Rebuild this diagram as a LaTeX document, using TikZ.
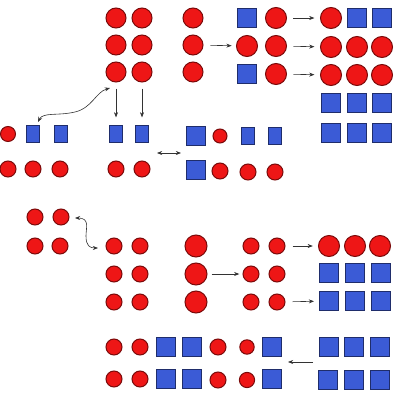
\documentclass[tikz,border=0pt]{standalone}
\usetikzlibrary{arrows.meta}
\definecolor{cred}{HTML}{EE1616}
\definecolor{credd}{HTML}{7A0A0A}
\definecolor{cblue}{HTML}{3B5BD6}
\definecolor{cblued}{HTML}{1F2D6B}
\definecolor{carr}{HTML}{333333}
\tikzset{
  rc/.style={circle, fill=cred, draw=credd, line width=0.25mm, minimum size=#1, inner sep=0pt},
  bs/.style={rectangle, fill=cblue, draw=cblued, line width=0.25mm, minimum size=#1, inner sep=0pt},
  br/.style={rectangle, fill=cblue, draw=cblued, line width=0.25mm, minimum width=3.25mm, minimum height=4.25mm, inner sep=0pt},
  arr/.style={draw=carr, line width=0.15mm, -{Stealth[length=1.3mm,width=1mm]}},
  darr/.style={draw=carr, line width=0.15mm, {Stealth[length=1.3mm,width=1mm]}-{Stealth[length=1.3mm,width=1mm]}}
}
\begin{document}
\begin{tikzpicture}[x=0.25mm,y=-0.25mm]
\useasboundingbox (0,0) rectangle (400,400);
% ---------- top ----------
\node[rc=5mm] (a11) at (116,18) {};
\node[rc=5mm] (a12) at (142,18) {};
\node[rc=5mm] (a21) at (116,45) {};
\node[rc=5mm] (a22) at (142,45) {};
\node[rc=5mm] (a31) at (116,72) {};
\node[rc=5mm] (a32) at (142,72) {};
\node[rc=5mm] (b1) at (193,18) {};
\node[rc=5mm] (b2) at (193,45) {};
\node[rc=5mm] (b3) at (193,72) {};
\node[bs=4.75mm] (c11) at (247,18) {};
\node[rc=5.25mm] (c12) at (276,18) {};
\node[rc=5.25mm] (c21) at (247,46) {};
\node[rc=5.25mm] (c22) at (276,46) {};
\node[bs=4.75mm] (c31) at (247,74) {};
\node[rc=5.25mm] (c32) at (276,74) {};
\node[rc=5.25mm] (d11) at (331,18) {};
\node[bs=4.75mm] (d12) at (357,18) {};
\node[bs=4.75mm] (d13) at (382,18) {};
\node[rc=5.25mm] (d21) at (331,47) {};
\node[rc=5.25mm] (d22) at (357,47) {};
\node[rc=5.25mm] (d23) at (382,47) {};
\node[rc=5.25mm] (d31) at (331,75) {};
\node[rc=5.25mm] (d32) at (357,75) {};
\node[rc=5.25mm] (d33) at (382,75) {};
\node[bs=4.75mm] (d41) at (331,103) {};
\node[bs=4.75mm] (d42) at (357,103) {};
\node[bs=4.75mm] (d43) at (382,103) {};
\node[bs=4.75mm] (d51) at (331,133) {};
\node[bs=4.75mm] (d52) at (357,133) {};
\node[bs=4.75mm] (d53) at (382,133) {};
\draw[arr, shorten <=1.7mm, shorten >=1.1mm] (b2) -- (c21);
\draw[arr, shorten <=1.6mm, shorten >=1.4mm] (c12) -- (d11);
\draw[arr, shorten <=1.6mm, shorten >=1.4mm] (c22) -- (d21);
\draw[arr, shorten <=1.6mm, shorten >=1.4mm] (c32) -- (d31);
% ---------- middle ----------
\node[rc=3.75mm] (e1) at (8,134) {};
\node[br] (e2) at (33,134) {};
\node[br] (e3) at (61,134) {};
\node[rc=4mm] (f1) at (8,169) {};
\node[rc=4mm] (f2) at (33,169) {};
\node[rc=4mm] (f3) at (60,169) {};
\node[br] (g1) at (116,134) {};
\node[br] (g2) at (142,134) {};
\node[rc=4mm] (h1) at (116,169) {};
\node[rc=4mm] (h2) at (142,169) {};
\node[bs=4.75mm] (i1) at (196,136) {};
\node[rc=3.5mm] (i2) at (220,136) {};
\node[br] (i3) at (248,136) {};
\node[br] (i4) at (275,136) {};
\node[bs=4.75mm] (j1) at (196,170) {};
\node[rc=4mm] (j2) at (220,171) {};
\node[rc=4mm] (j3) at (248,172) {};
\node[rc=4mm] (j4) at (275,172) {};
\draw[arr, shorten <=1.5mm, shorten >=1.9mm] (a31) -- (g1);
\draw[arr, shorten <=1.5mm, shorten >=1.9mm] (a32) -- (g2);
\coordinate (cs1) at (38,122);
\coordinate (ce1) at (110,88);
\draw[darr] (cs1) .. controls (43,112) and (58,116) .. (75,112) .. controls (92,108) and (96,92) .. (ce1);
\coordinate (ha) at (157,153);
\coordinate (hb) at (181,153);
\draw[darr] (ha) -- (hb);
% ---------- lower ----------
\node[rc=4mm] (k11) at (35,217) {};
\node[rc=4mm] (k12) at (61,217) {};
\node[rc=4mm] (k21) at (35,246) {};
\node[rc=4mm] (k22) at (60,246) {};
\node[rc=4mm] (l11) at (114,246) {};
\node[rc=4mm] (l12) at (140,246) {};
\node[rc=4mm] (l21) at (114,274) {};
\node[rc=4mm] (l22) at (140,274) {};
\node[rc=4mm] (l31) at (114,302) {};
\node[rc=4mm] (l32) at (140,302) {};
\node[rc=5.5mm] (m1) at (196,246) {};
\node[rc=5.5mm] (m2) at (196,274) {};
\node[rc=5.5mm] (m3) at (196,302) {};
\node[rc=4mm] (n11) at (251,246) {};
\node[rc=4mm] (n12) at (277,246) {};
\node[rc=4mm] (n21) at (251,274) {};
\node[rc=4mm] (n22) at (277,274) {};
\node[rc=4mm] (n31) at (251,302) {};
\node[rc=4mm] (n32) at (277,302) {};
\node[rc=5.25mm] (o11) at (329,246) {};
\node[rc=5.25mm] (o12) at (355,246) {};
\node[rc=5.25mm] (o13) at (380,246) {};
\node[bs=4.85mm] (o21) at (329,273) {};
\node[bs=4.85mm] (o22) at (355,273) {};
\node[bs=4.85mm] (o23) at (381,273) {};
\node[bs=4.85mm] (o31) at (329,301) {};
\node[bs=4.85mm] (o32) at (355,301) {};
\node[bs=4.85mm] (o33) at (381,301) {};
\coordinate (cs2) at (75,218);
\coordinate (ce2) at (98,248);
\draw[darr] (cs2) .. controls (90,218) and (86,228) .. (86,236) .. controls (86,246) and (90,248) .. (ce2);
\draw[arr, shorten <=1mm, shorten >=0.8mm] (m2) -- (n21);
\draw[arr, shorten <=1.8mm, shorten >=1.3mm] (n12) -- (o11);
\draw[arr, shorten <=1.8mm, shorten >=1.2mm] (n32) -- (o31);
% ---------- bottom ----------
\node[rc=4mm] (p1) at (114,347) {};
\node[rc=4mm] (p2) at (140,347) {};
\node[bs=4.75mm] (p3) at (166,347) {};
\node[bs=4.75mm] (p4) at (192,347) {};
\node[rc=4mm] (p5) at (218,347) {};
\node[rc=3.6mm] (p6) at (247,347) {};
\node[bs=4.75mm] (p7) at (272,347) {};
\node[rc=4mm] (q1) at (114,379) {};
\node[rc=4mm] (q2) at (140,379) {};
\node[bs=4.75mm] (q3) at (166,379) {};
\node[bs=4.75mm] (q4) at (192,379) {};
\node[rc=4mm] (q5) at (218,380) {};
\node[rc=3.8mm] (q6) at (247,380) {};
\node[bs=4.75mm] (q7) at (272,379) {};
\node[bs=4.75mm] (r11) at (329,347) {};
\node[bs=4.75mm] (r12) at (354,347) {};
\node[bs=4.75mm] (r13) at (380,347) {};
\node[bs=4.75mm] (r21) at (328,380) {};
\node[bs=4.75mm] (r22) at (354,380) {};
\node[bs=4.75mm] (r23) at (380,380) {};
\coordinate (ba) at (313,362);
\coordinate (bb) at (288,362);
\draw[arr] (ba) -- (bb);
\end{tikzpicture}
\end{document}
